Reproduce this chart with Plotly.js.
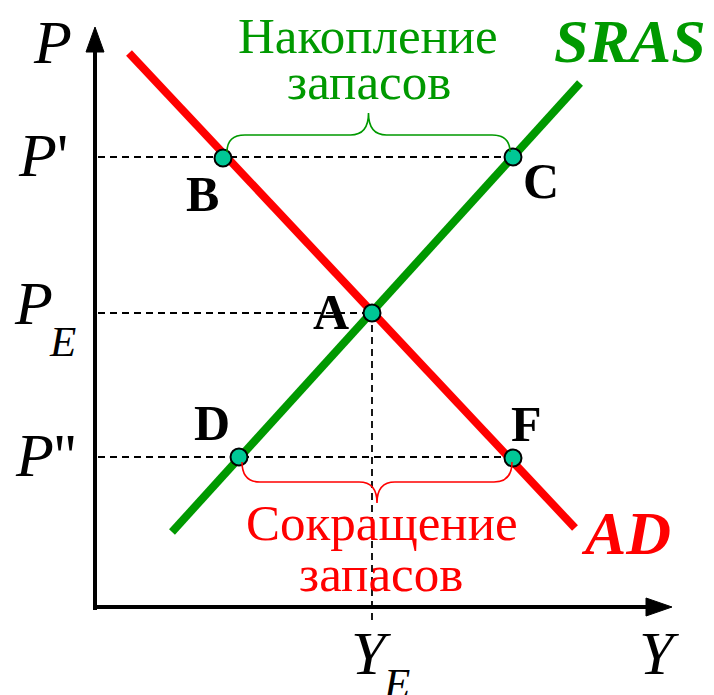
<!DOCTYPE html>
<html>
<head>
<meta charset="utf-8">
<script src="https://cdn.plot.ly/plotly-3.0.1.min.js"></script>
<style>html,body{margin:0;padding:0;background:#fff;}#chart{width:714px;height:695px;}</style>
</head>
<body>
<div id="chart"></div>
<script>
// ---- data (units: output Y to the right, price P upward) ----
const AD_x = [34, 480];
const AD_y = [554, 79];
const SRAS_x = [77, 485];
const SRAS_y = [75, 524];
const pointNames = ["A", "B", "C", "D", "F"];
const point_x = [277, 128, 418, 144, 418];
const point_y = [294, 449, 450, 150, 149];
const P_prime = 450, P_E = 294, P_dprime = 150, Y_E = 277;
const priceTickMarks = ["'", "", "''"];
const curveNames = ["SRAS", "AD"];
const braceTop = ["Накопление", "запасов"];
const braceBottom = ["Сокращение", "запасов"];

const RED = "#ff0000", GREEN = "#009900", TEAL = "#00c896";
const SERIF = "Liberation Serif, Times New Roman, serif";

const dash = {color: "#000", width: 1.8, dash: "7px,5px"};
const traces = [
  {x: AD_x, y: AD_y, mode: "lines", line: {color: RED, width: 8}, hoverinfo: "skip"},
  {x: SRAS_x, y: SRAS_y, mode: "lines", line: {color: GREEN, width: 8}, hoverinfo: "skip"},
  // dashed guides
  {x: [3, point_x[2]], y: [P_prime, P_prime], mode: "lines", line: dash},
  {x: [3, point_x[0]], y: [P_E, P_E], mode: "lines", line: dash},
  {x: [3, point_x[4]], y: [P_dprime, P_dprime], mode: "lines", line: dash},
  {x: [Y_E, Y_E], y: [P_E, -13], mode: "lines", line: dash},
  {x: point_x, y: point_y, mode: "markers", text: pointNames,
   marker: {size: 17, color: TEAL, line: {color: "#000", width: 2}}}
];

function brace(x1, x2, yEnd, yH, yTip, r) {
  const xm = (x1 + x2) / 2;
  return `M${x1},${yEnd} Q${x1},${yH} ${x1 + r},${yH} L${xm - r},${yH} Q${xm},${yH} ${xm},${yTip} ` +
         `Q${xm},${yH} ${xm + r},${yH} L${x2 - r},${yH} Q${x2},${yH} ${x2},${yEnd}`;
}

const shapes = [
  // axes
  {type: "line", x0: 0, x1: 0, y0: -3, y1: 558, line: {color: "#000", width: 4}},
  {type: "path", path: "M-9,555 L9,555 L0,580 Z", fillcolor: "#000", line: {color: "#000", width: 1}},
  {type: "line", x0: -2, x1: 553, y0: 0, y1: 0, line: {color: "#000", width: 4}},
  {type: "path", path: "M551,-9 L551,9 L577,0 Z", fillcolor: "#000", line: {color: "#000", width: 1}},
  // braces
  {type: "path", path: brace(132, 415, 455, 472, 494, 18), line: {color: GREEN, width: 1.6}},
  {type: "path", path: brace(147, 417, 145, 125, 104, 18), line: {color: RED, width: 1.6}}
];

function ann(text, x, y, size, color, extra) {
  return Object.assign({text: text, x: x, y: y, xref: "x", yref: "y", showarrow: false,
    xanchor: "center", yanchor: "middle", font: {family: SERIF, size: size, color: color}}, extra || {});
}

const annotations = [
  ann("<i>P</i>", -43, 565, 62, "#000"),
  ann("<i>P</i>" + priceTickMarks[0], -52, 452, 62, "#000"),
  ann("<i>P</i>", -62, 304, 62, "#000"),
  ann("<i>E</i>", -33, 266, 43, "#000"),
  ann("<i>P</i>" + priceTickMarks[2], -50, 152, 62, "#000"),
  ann("<i>Y</i>", 276, -46, 62, "#000"),
  ann("<i>E</i>", 301, -76, 43, "#000"),
  ann("<i>Y</i>", 564, -46, 62, "#000"),
  ann("<b><i>" + curveNames[0] + "</i></b>", 535, 566, 62, GREEN),
  ann("<b><i>" + curveNames[1] + "</i></b>", 531, 74, 62, RED),
  ann(braceTop[0], 273, 571, 51, GREEN),
  ann(braceTop[1], 274, 525, 51, GREEN),
  ann(braceBottom[0], 287, 84, 51, RED),
  ann(braceBottom[1], 286, 33, 51, RED),
  ann("<b>" + pointNames[0] + "</b>", 236, 295, 50, "#000"),
  ann("<b>" + pointNames[1] + "</b>", 107, 413, 50, "#000"),
  ann("<b>" + pointNames[2] + "</b>", 446, 426, 50, "#000"),
  ann("<b>" + pointNames[3] + "</b>", 117, 184, 50, "#000"),
  ann("<b>" + pointNames[4] + "</b>", 431, 183, 50, "#000")
];

const layout = {
  width: 714, height: 695,
  margin: {l: 0, r: 0, t: 0, b: 0},
  paper_bgcolor: "#fff", plot_bgcolor: "#fff",
  showlegend: false,
  xaxis: {range: [-95, 619], visible: false, fixedrange: true},
  yaxis: {range: [-88, 607], visible: false, fixedrange: true},
  shapes: shapes,
  annotations: annotations
};

Plotly.newPlot("chart", traces, layout, {displayModeBar: false, staticPlot: true});
</script>
</body>
</html>
